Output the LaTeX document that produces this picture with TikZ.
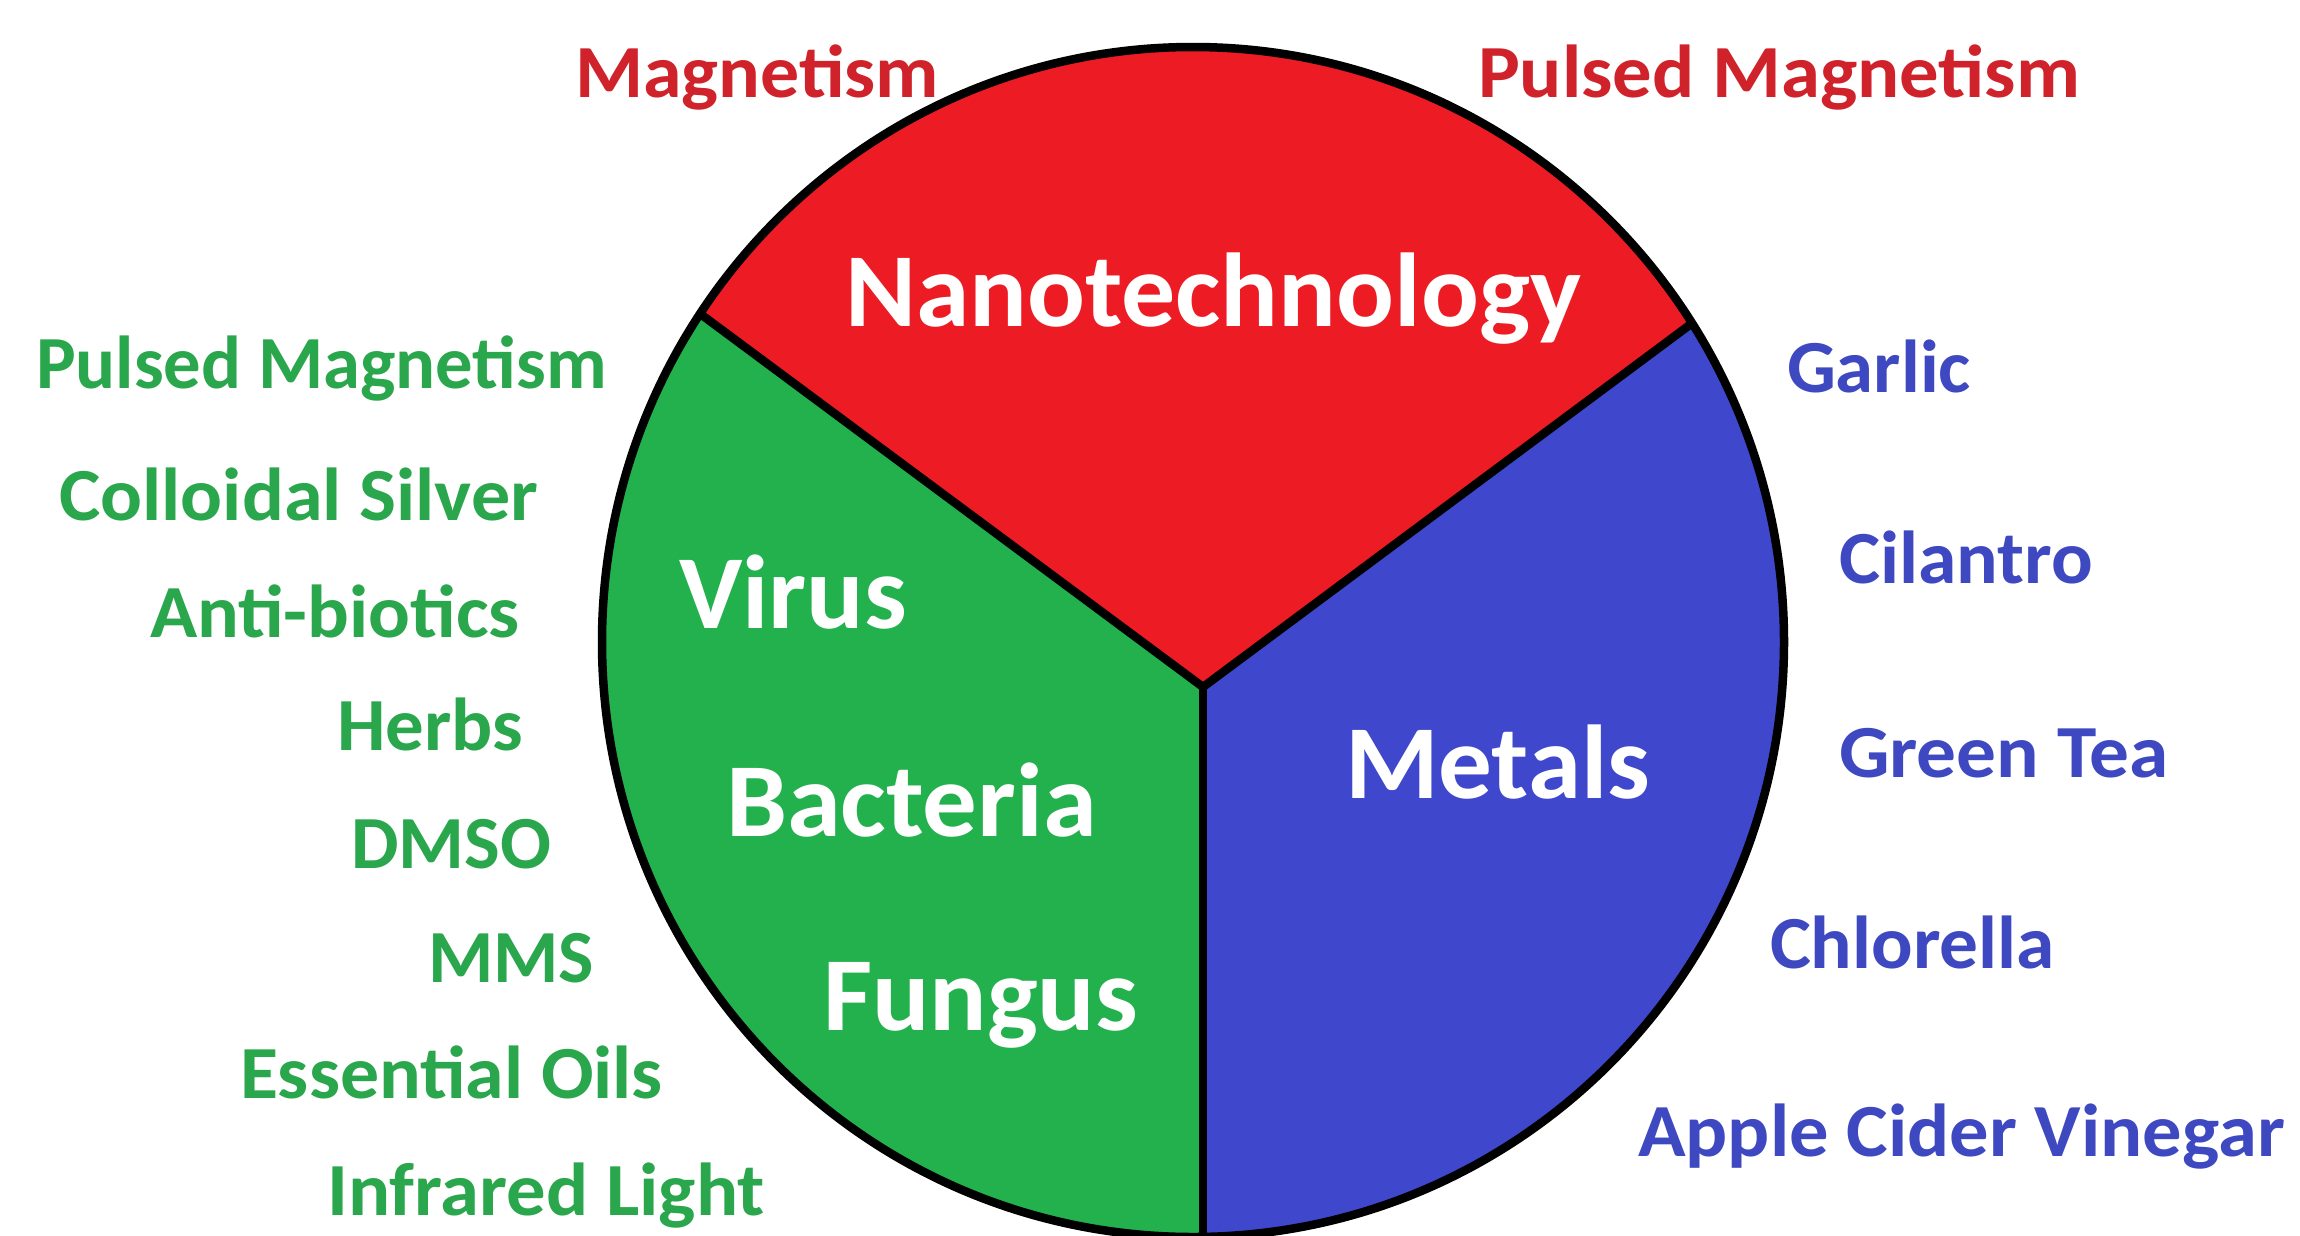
\documentclass[tikz,border=0pt]{standalone}
\usepackage{fontspec}
\usepackage{graphicx}
\usetikzlibrary{calc}
\newfontfamily\cf{Carlito}
\definecolor{fillred}{RGB}{237,28,36}
\definecolor{fillgreen}{RGB}{34,177,76}
\definecolor{fillblue}{RGB}{63,72,204}
\definecolor{txtred}{RGB}{208,34,42}
\definecolor{txtgreen}{RGB}{42,166,76}
\definecolor{txtblue}{RGB}{62,72,192}
\newcommand{\fitw}[2]{\resizebox{#1pt}{\height}{#2}}
\tikzset{
  lbl/.style={inner sep=0pt, outer sep=0pt, anchor=base west, font=\cf\bfseries\fontsize{75}{80}\selectfont},
  big/.style={lbl, text=white, font=\cf\bfseries\fontsize{105}{110}\selectfont},
  rlbl/.style={lbl, text=txtred},
  glbl/.style={lbl, text=txtgreen},
  blbl/.style={lbl, text=txtblue},
  divider/.style={line width=8.5pt, black},
  rim/.style={line width=8.5pt, black}
}
\begin{document}
\begin{tikzpicture}[x=1pt, y=-1pt]
\useasboundingbox (0,0) rectangle (2300,1235);
\fill[white] (0,0) rectangle (2300,1235);
\clip (0,0) rectangle (2300,1235);

\coordinate (J) at (1203,687);
\coordinate (L) at (656,281);
\coordinate (R) at (1738,289);
\coordinate (B) at (1203,1300);
\coordinate (C) at (1193,642);

\begin{scope}
  \clip (C) ellipse [x radius=591, y radius=595];
  \fill[fillred] (J) -- ($(J)!2!(L)$) -- ($(J)!2!(R)$) -- cycle;
  \fill[fillgreen] (J) -- ($(J)!2!(L)$) -- (0,1400) -- (1203,1400) -- cycle;
  \fill[fillblue] (J) -- ($(J)!2!(R)$) -- (2300,1400) -- (1203,1400) -- cycle;
  \draw[divider] (L) -- (J) -- (R);
  \draw[divider] (J) -- (B);
\end{scope}
\draw[rim] (C) ellipse [x radius=591, y radius=595];

% sector titles
\node[big] (nano) at (845,326) {\fitw{736}{Nanotechnology}};
\node[big] (virus) at (679,628) {\fitw{228}{Virus}};
\node[big] (bact) at (726,836) {\fitw{371}{Bacteria}};
\node[big] (fung) at (823,1030) {\fitw{315}{Fungus}};
\node[big] (metals) at (1345,798) {\fitw{305}{Metals}};

% red labels
\node[rlbl] (mag) at (575,97) {\fitw{364}{Magnetism}};
\node[rlbl] (pmr) at (1478,97) {\fitw{602}{Pulsed Magnetism}};

% green labels
\node[glbl] (pmg) at (36,388) {\fitw{571}{Pulsed Magnetism}};
\node[glbl] (coll) at (59,520) {\fitw{479}{Colloidal Silver}};
\node[glbl] (anti) at (150,637) {\fitw{370}{Anti-biotics}};
\node[glbl] (herbs) at (337,750) {\fitw{186}{Herbs}};
\node[glbl] (dmso) at (351,868) {\fitw{200}{DMSO}};
\node[glbl] (mms) at (428,982) {\fitw{166}{MMS}};
\node[glbl] (oils) at (240,1098) {\fitw{423}{Essential Oils}};
\node[glbl] (ir) at (327,1215) {\fitw{438}{Infrared Light}};

% blue labels
\node[blbl] (garlic) at (1787,392) {\fitw{184}{Garlic}};
\node[blbl] (cil) at (1839,583) {\fitw{254}{Cilantro}};
\node[blbl] (tea) at (1839,777) {\fitw{330}{Green Tea}};
\node[blbl] (chl) at (1770,968) {\fitw{285}{Chlorella}};
\node[blbl] (acv) at (1638,1156) {\fitw{647}{Apple Cider Vinegar}};
\end{tikzpicture}
\end{document}
